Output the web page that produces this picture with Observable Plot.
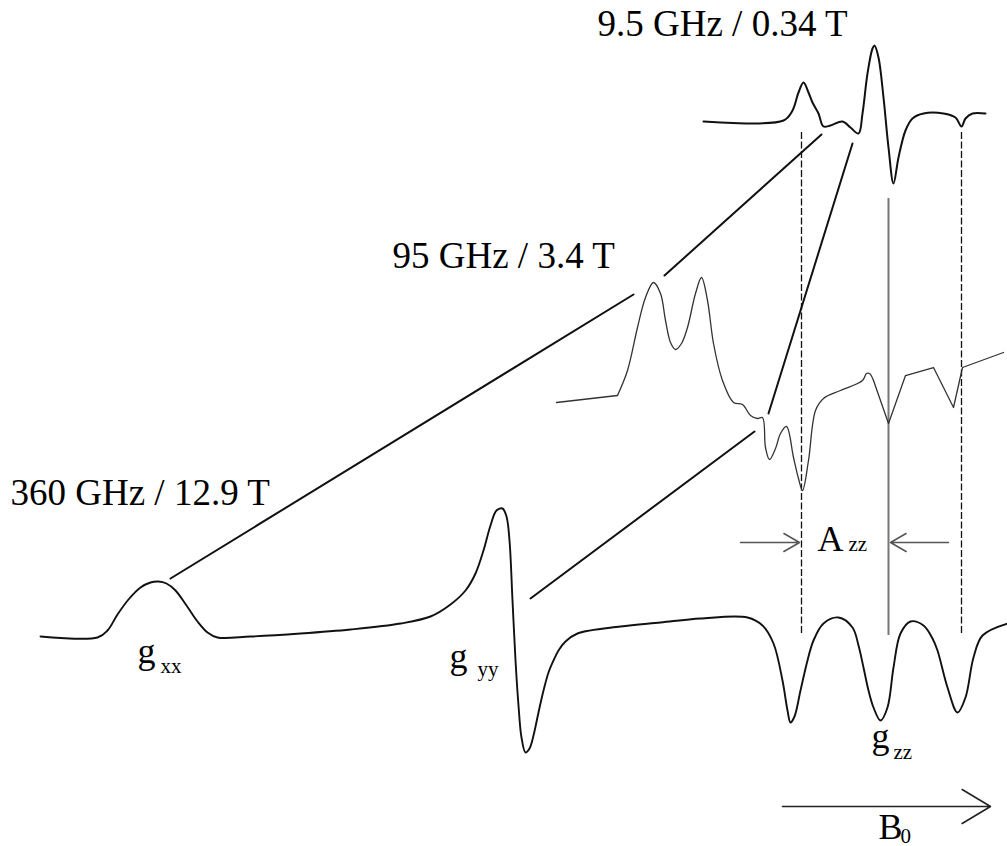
<!DOCTYPE html>
<html>
<head>
<meta charset="utf-8">
<script src="https://cdn.jsdelivr.net/npm/d3@7"></script>
<script src="https://cdn.jsdelivr.net/npm/@observablehq/plot@0.6"></script>
<style>
  html, body { margin: 0; padding: 0; background: #fff; }
  #chart svg { display: block; }
</style>
</head>
<body>
<div id="chart"></div>
<script>
// Schematic EPR spectra of a nitroxide at three frequencies.
// Coordinates are in sketch units: x runs with the field B0, y downward.

// 9.5 GHz (X-band) first-derivative trace
const trace9 = [
  [703,121],[783,120],[792,110],[798,92],[803,82],[808,92],[812,102],[818,113],
  [823,126],[830,125],[842,121],[850,127],[858,133],[862,113],[867,73],[872,48],
  [874,45],[878,57],[883,97],[888,147],[893,183],[898,157],[905,130],[912,118],
  [923,113],[943,113],[955,117],[961,126],[965,118],[972,113],[985,113]
];

// 95 GHz (W-band) trace: straight lead-in, smooth middle, straight tail
const trace95Lead = [[556,402],[617,395]];
const trace95Mid = [
  [617,395],[627,370],[637,327],[645,297],[653,282],[660,293],[665,320],[670,342],
  [675,349],[681,343],[687,327],[695,293],[701,277],[707,300],[713,343],[722,380],
  [733,402],[742,404],[750,415],[757,418],[762,417],[765,447],[769,459],[775,448],
  [780,433],[786,426],[793,457],[798,478],[802,490],[808,460],[815,410],[823,398],
  [840,390],[862,380],[866,373],[869,373],[873,380]
];
const trace95Tail = [[873,380],[888,423],[905,375],[933,367],[953,407],[962,367],[1003,352]];

// 360 GHz (high-field) trace with gxx, gyy and the gzz hyperfine triplet
const trace360 = [
  [40,636],[97,637],[107,630],[117,614],[128,599],[140,587],[150,582],[158,581],
  [166,583],[175,590],[186,605],[197,621],[207,632],[217,637],[250,636],[300,633],
  [350,629],[400,623],[430,616],[450,604],[465,590],[475,573],[483,550],[490,525],
  [496,510],[502,508],[506,516],[509,540],[512,600],[515,660],[518,705],[521,737],
  [525,752],[529,748],[533,735],[538,712],[543,690],[548,672],[553,660],[558,650],
  [565,641],[577,633],[620,626],[660,622],[700,618],[747,617],[762,625],[773,643],
  [782,680],[787,710],[790,722],[794,716],[800,690],[807,660],[813,640],[823,623],
  [838,617],[852,627],[858,645],[863,667],[868,690],[873,707],[880,720],[887,707],
  [893,667],[900,633],[910,621],[923,625],[932,638],[937,650],[947,687],[957,712],
  [965,697],[973,657],[982,635],[1007,623]
];

// Correlation lines linking each canonical g position across the traces
const links = [
  {id: "gxx-a", pts: [[170,578],[633,294]]},
  {id: "gxx-b", pts: [[664,275],[821,134]]},
  {id: "gyy-a", pts: [[530,598],[754,431]]},
  {id: "gyy-b", pts: [[768,413],[852,143]]}
];

// gzz markers: outer hyperfine lines dashed, centre line solid
const gzzDashed = [801, 961];
const gzzSolid = [888];
const gzzTop = {dashed: 132, solid: 198};
const gzzBottom = 635;

// Hyperfine splitting arrows and field-direction arrow
const azzArrows = [
  {x1: 740, x2: 799, y: 542},
  {x1: 948, x2: 890, y: 542}
];
const fieldArrow = [{x1: 782, x2: 990, y: 806}];

// Frequency / field headings
const headings = [
  {text: "9.5 GHz / 0.34 T", x: 597, y: 35},
  {text: "95 GHz / 3.4 T", x: 392, y: 267},
  {text: "360 GHz / 12.9 T", x: 10, y: 504}
];

// Symbol labels with their subscripts
const symbols = [
  {text: "g", x: 137, y: 662}, {text: "g", x: 449, y: 667},
  {text: "A", x: 817, y: 550}, {text: "g", x: 871, y: 747},
  {text: "B", x: 878, y: 838}
];
const subscripts = [
  {text: "xx", x: 160, y: 672}, {text: "yy", x: 477, y: 675},
  {text: "zz", x: 848, y: 550}, {text: "zz", x: 893, y: 758},
  {text: "0", x: 900, y: 842}
];

const serif = "'Liberation Serif', 'Times New Roman', serif";

const chart = Plot.plot({
  width: 1007,
  height: 846,
  margin: 0,
  x: {domain: [0, 1007], axis: null},
  y: {domain: [846, 0], axis: null},
  marks: [
    // gzz reference lines
    Plot.ruleX(gzzDashed, {y1: gzzTop.dashed, y2: gzzBottom, stroke: "#111", strokeWidth: 1.3, strokeDasharray: "7,2.5"}),
    Plot.ruleX(gzzSolid, {y1: gzzTop.solid, y2: gzzBottom, stroke: "#777", strokeWidth: 2}),
    // correlation lines
    ...links.map(l => Plot.line(l.pts, {stroke: "#111", strokeWidth: 2})),
    // spectra
    Plot.line(trace9, {curve: "catmull-rom", stroke: "#111", strokeWidth: 2}),
    Plot.line(trace95Lead, {stroke: "#333", strokeWidth: 1.3}),
    Plot.line(trace95Mid, {curve: "catmull-rom", stroke: "#333", strokeWidth: 1.3}),
    Plot.line(trace95Tail, {stroke: "#333", strokeWidth: 1.3}),
    Plot.line(trace360, {curve: "catmull-rom", stroke: "#111", strokeWidth: 1.9}),
    // arrows
    Plot.arrow(azzArrows, {x1: "x1", x2: "x2", y1: "y", y2: "y", stroke: "#555", strokeWidth: 1.5, headLength: 18, headAngle: 60}),
    Plot.arrow(fieldArrow, {x1: "x1", x2: "x2", y1: "y", y2: "y", stroke: "#222", strokeWidth: 1.6, headLength: 31, headAngle: 62}),
    // text
    Plot.text(headings, {x: "x", y: "y", text: "text", textAnchor: "start", lineAnchor: "bottom", fontSize: 37, fontFamily: serif, fill: "#000"}),
    Plot.text(symbols, {x: "x", y: "y", text: "text", textAnchor: "start", lineAnchor: "bottom", fontSize: 36, fontFamily: serif, fill: "#000"}),
    Plot.text(subscripts, {x: "x", y: "y", text: "text", textAnchor: "start", lineAnchor: "bottom", fontSize: 21, fontFamily: serif, fill: "#000"})
  ]
});

document.getElementById("chart").appendChild(chart);
</script>
</body>
</html>
